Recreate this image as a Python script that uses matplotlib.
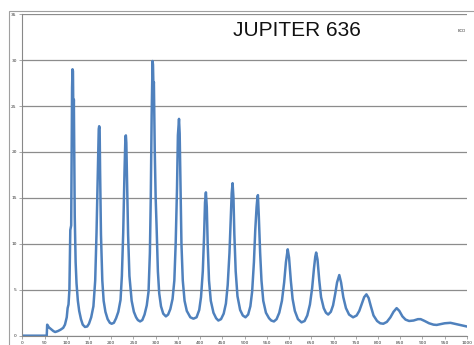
import matplotlib
matplotlib.use("Agg")
import matplotlib.pyplot as plt
from matplotlib.patches import Rectangle

# wavelength-ish x values and signal
x_vals = [0, 55, 56, 60, 65, 70, 74, 80, 86, 92, 96, 98, 100, 102, 104, 106, 107, 108, 110,
          111, 112, 113, 114, 115, 116, 117, 118, 120, 122, 125, 128, 132, 136, 141, 146, 150,
          155, 160, 164, 167, 170, 172, 173, 174, 175, 177, 180, 183, 187, 192, 197, 201, 206,
          211, 216, 221, 224, 227, 230, 232, 233, 234, 236, 238, 241, 246, 251, 256, 260, 265,
          270, 275, 280, 284, 287, 289, 291, 293, 294, 295, 296, 298, 300, 302, 305, 308, 312,
          317, 323, 328, 333, 338, 342, 345, 348, 350, 351, 352.5, 354, 356, 358, 361, 365, 370,
          378, 385, 392, 398, 402, 406, 409, 411, 413, 415, 417, 420, 424, 430, 436, 441, 447,
          453, 458, 462, 466, 469, 471, 473, 475, 477, 480, 484, 490, 496, 502, 508, 513, 517,
          521, 524, 527, 529, 530, 532, 535, 538, 542, 548, 555, 560, 566, 572, 578, 584, 589,
          593, 597, 600, 604, 608, 613, 620, 628, 635, 641, 647, 652, 656, 659, 661, 664, 668,
          672, 678, 683, 688, 694, 699, 704, 708, 713, 717, 722, 728, 735, 744, 752, 758, 764,
          769, 774, 779, 784, 790, 798, 805, 812, 820, 828, 835, 842, 848, 855, 862, 870, 880,
          890, 896, 905, 915, 925, 932, 940, 950, 963, 972, 985, 1000]
ecd_vals = [0, 0, 1.2, 0.9, 0.7, 0.5, 0.4, 0.5, 0.65, 0.85, 1.2, 1.6, 2.0, 3.0, 3.4, 5.0, 8, 11.5, 12,
            20, 27, 29, 28.8, 23, 25.7, 20, 13, 8, 5.7, 3.8, 2.7, 1.8, 1.2, 0.95, 1.0, 1.3,
            2.0, 3.2, 6, 11.2, 18, 22.5, 22.8, 22.6, 18, 11, 6, 3.8, 2.6, 1.8, 1.4, 1.3, 1.4,
            1.9, 2.6, 3.9, 6.5, 11.2, 18, 21.7, 21.8, 21, 16, 11, 6.5, 3.8, 2.6, 2.0, 1.7, 1.55,
            1.7, 2.3, 3.3, 4.8, 9, 15, 24, 29.9, 29.5, 27, 27.6, 20, 15, 12, 7, 4.6, 3.2,
            2.4, 2.1, 2.3, 2.9, 4.0, 6, 10, 16, 21.8, 22.5, 23.6, 22, 16, 10, 6, 3.8, 2.7,
            2.0, 1.85, 2.0, 2.8, 4.2, 7, 11, 14.5, 15.6, 14, 10, 6, 3.8, 2.5, 1.9, 1.65, 1.8,
            2.4, 3.5, 5.5, 9, 13, 15.5, 16.6, 15, 11, 7, 4.3, 2.8, 2.2, 2.0, 2.3, 3.2, 4.8,
            8, 11.5, 14, 15.1, 15.3, 13, 9, 6, 3.8, 2.5, 1.9, 1.65, 1.55, 1.8, 2.5, 3.8, 5.8,
            8, 9.4, 8.5, 6, 4, 2.7, 1.8, 1.45, 1.6, 2.2, 3.4, 5.2, 7.3, 8.6, 9.05, 8.3, 6,
            4.2, 3.0, 2.5, 2.3, 2.6, 3.3, 4.6, 5.8, 6.6, 5.8, 4.2, 3.0, 2.3, 2.0, 2.2, 2.7, 3.5,
            4.2, 4.5, 4.1, 3.2, 2.2, 1.6, 1.35, 1.3, 1.5, 2.0, 2.6, 3.0, 2.7, 2.1, 1.75, 1.6, 1.65,
            1.8, 1.8, 1.6, 1.35, 1.2, 1.17, 1.25, 1.35, 1.4, 1.3, 1.15, 1.0]

x_ticks = list(range(0, 1001, 50))
y_ticks = list(range(0, 36, 5))

fig = plt.figure(figsize=(4.74, 3.45), dpi=100)
ax = fig.add_axes([0.047, 0.027, 0.938, 0.932])

ax.plot(x_vals, ecd_vals, color="#4f81bd", linewidth=1.8, label="ECD")

ax.set_xlim(0, 1000)
ax.set_ylim(0, 35)
ax.set_xticks(x_ticks)
ax.set_yticks(y_ticks)
ax.tick_params(labelsize=3.2, colors="#333333", length=2, width=0.5, pad=2)
ax.tick_params(axis="both", color="#888888")
ax.grid(axis="y", color="#8c8c8c", linewidth=0.9)
ax.set_axisbelow(True)
for side in ["top", "right"]:
    ax.spines[side].set_visible(False)
for side in ["left", "bottom"]:
    ax.spines[side].set_color("#888888")
    ax.spines[side].set_linewidth(0.8)

fig.text(0.626, 0.911, "JUPITER 636", fontsize=15, family="Liberation Sans",
         ha="center", va="center", color="#111111")
fig.text(0.974, 0.909, "ECD", fontsize=2.8, ha="center", va="center", color="#333333")

# outer chart border
fig.patches.append(Rectangle((9 / 474, -0.2), 1.2, 1.2 - 10.5 / 345, transform=fig.transFigure,
                             fill=False, edgecolor="#a0a0a0", linewidth=0.8))

fig.savefig("out.png", dpi=100)
